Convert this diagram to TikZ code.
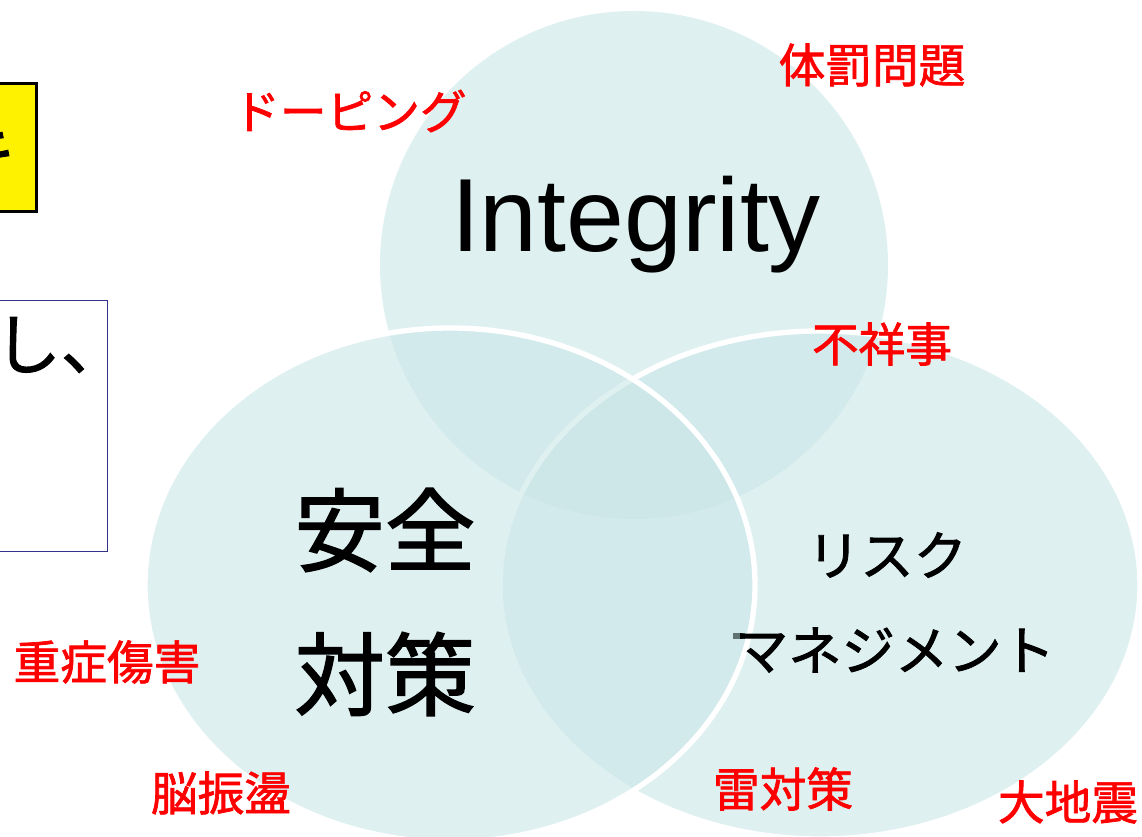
\documentclass[tikz,border=0pt]{standalone}
\usepackage{fontspec}
\setmainfont{Liberation Sans}
\newfontfamily\jp[FakeBold=1.5]{Noto Sans CJK JP}
\definecolor{venn}{RGB}{202,230,232}
\definecolor{boxblue}{RGB}{50,50,140}
\definecolor{dashgray}{RGB}{95,115,115}
\tikzset{
  vennshape/.style={fill=venn, fill opacity=0.6},
  vennborder/.style={draw=white, line width=4},
  redlab/.style={text=red, inner sep=0pt, font=\jp\fontsize{35}{40}\selectfont},
  bigjp/.style={text=black, inner sep=0pt, font=\jp\fontsize{68}{80}\selectfont},
  midjp/.style={text=black, inner sep=0pt, font=\jp\fontsize{40}{48}\selectfont},
}
\begin{document}
\begin{tikzpicture}[x=0.75pt,y=-0.75pt]
\useasboundingbox (0,0) rectangle (1142,837);
\fill[white] (0,0) rectangle (1142,837);
% left boxes (cut off)
\node[draw=black, line width=2.2pt, fill=yellow, minimum width=60*0.75pt, minimum height=128*0.75pt, inner sep=0pt, anchor=north east] (ybox) at (38,82) {};
\node[inner sep=0pt, anchor=east, font=\jp\fontsize{50}{60}\selectfont] (ytext) at (16,152) {キ};
\node[draw=boxblue, line width=1.1pt, minimum width=130*0.75pt, minimum height=251*0.75pt, inner sep=0pt, anchor=north east] (bbox) at (108,300) {};
\node[inner sep=0pt, anchor=west, font=\jp\fontsize{50}{60}\selectfont] (btext) at (-6,345) {し、};
% venn ellipses
\path[vennshape] (634,265) ellipse [x radius=254, y radius=254];
\path[vennshape, vennborder] (820,585) ellipse [x radius=320, y radius=254];
\path[vennshape, vennborder] (450,585) ellipse [x radius=305, y radius=257];
\fill[dashgray] (733,633) rectangle (745,639);
% main labels
\node[inner sep=0pt, anchor=base, font=\fontsize{78}{90}\selectfont] (integ) at (636,252) {Integrity};
\node[bigjp] (anzen) at (385,530) {安全};
\node[bigjp] (taisaku) at (385,674) {対策};
\node[midjp] (risk) at (887,555) {リスク};
\node[midjp] (mgmt) at (895,650) {マネジメント};
% red labels
\node[redlab] (doping) at (350,111) {ドーピング};
\node[redlab] (taibatsu) at (872,65) {体罰問題};
\node[redlab] (fushoji) at (882,344) {不祥事};
\node[redlab] (jusho) at (107,662) {重症傷害};
\node[redlab] (noshinto) at (221,793) {脳振盪};
\node[redlab] (kaminari) at (783,789) {雷対策};
\node[redlab] (daijishin) at (1068,802) {大地震};
\end{tikzpicture}
\end{document}
